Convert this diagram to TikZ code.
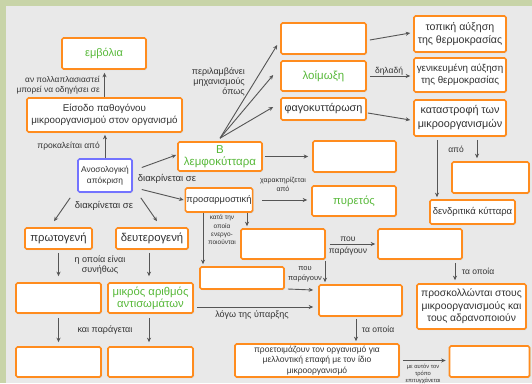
\documentclass[tikz,border=0pt]{standalone}
\usepackage{fontspec}
\setmainfont{Liberation Sans}
\usetikzlibrary{arrows.meta,shadows}
\definecolor{boxor}{RGB}{255,140,30}
\definecolor{bluec}{RGB}{115,115,255}
\definecolor{grn}{RGB}{88,185,58}
\definecolor{txt}{RGB}{50,50,50}
\definecolor{arrc}{RGB}{85,85,85}
\definecolor{bgc}{RGB}{233,233,233}
\definecolor{bandc}{RGB}{200,212,168}
\newcommand{\fs}[2]{\fontsize{#1}{#2}\selectfont}
\begin{document}
\begin{tikzpicture}[x=1pt,y=-1pt,
  box/.style={draw=boxor, line width=1.6pt, fill=white, rounded corners=1.5pt, align=center,
    inner sep=1pt, text=txt, font=\fs{9.8}{12},
    drop shadow={shadow xshift=1pt, shadow yshift=-1pt, opacity=0.2}},
  arr/.style={draw=arrc, line width=0.9pt, -{Stealth[length=4.5pt,width=4pt]}},
  lab/.style={text=txt, font=\fs{8.5}{10}, align=center, inner sep=0pt},
  small/.style={lab, font=\fs{7}{8.5}}]
\fill[bandc] (0,0) rectangle (532,383);
\fill[bgc] (6,6) rectangle (532,383);
\useasboundingbox (0,0) rectangle (532,383);

% boxes
\node[box,minimum width=84pt,minimum height=31pt,text=grn,font=\fs{11}{12}] (emv) at (104,53.5) {εμβόλια};
\node[box,minimum width=155pt,minimum height=34pt] (eis) at (104.5,115) {Είσοδο παθογόνου\\μικροοργανισμού στον οργανισμό};
\node[box,draw=bluec,minimum width=54pt,minimum height=33pt,font=\fs{8.4}{10.5}] (anos) at (105,175.5) {Ανοσολογική\\απόκριση};
\node[box,minimum width=84pt,minimum height=29pt,text=grn,font=\fs{11.5}{12.5}] (blem) at (220,156.5) {Β\\λεμφοκύτταρα};
\node[box,minimum width=85pt,minimum height=31pt] (mech) at (323.5,38.5) {};
\node[box,minimum width=85pt,minimum height=30pt,text=grn,font=\fs{11.5}{12}] (loim) at (323.5,76) {λοίμωξη};
\node[box,minimum width=85pt,minimum height=22pt,font=\fs{10.8}{12}] (fago) at (323.5,109) {φαγοκυττάρωση};
\node[box,minimum width=92pt,minimum height=36pt,font=\fs{10.6}{13.5}] (topi) at (460,34) {τοπική αύξηση\\της θερμοκρασίας};
\node[box,minimum width=92pt,minimum height=34pt,font=\fs{9.8}{12.5}] (geni) at (460,75) {γενικευμένη αύξηση\\της θερμοκρασίας};
\node[box,minimum width=92pt,minimum height=36pt,font=\fs{10.8}{14}] (kata) at (460,118) {καταστροφή των\\μικροοργανισμών};
\node[box,minimum width=83pt,minimum height=31pt] (eB) at (354.5,156.5) {};
\node[box,minimum width=84pt,minimum height=30pt,text=grn,font=\fs{11.3}{12}] (pyr) at (354,201) {πυρετός};
\node[box,minimum width=66pt,minimum height=24pt,font=\fs{9.3}{11}] (pros) at (219,200) {προσαρμοστική};
\node[box,minimum width=77pt,minimum height=31pt] (eK) at (490.5,177.5) {};
\node[box,minimum width=85pt,minimum height=24pt,font=\fs{9.5}{11}] (dend) at (472.5,212) {δενδριτικά κύτταρα};
\node[box,minimum width=84pt,minimum height=30pt] (eP) at (420,244) {};
\node[box,minimum width=84pt,minimum height=30pt] (eM) at (283,244) {};
\node[box,minimum width=67pt,minimum height=21pt,font=\fs{11.3}{12}] (prot) at (58.5,238.5) {πρωτογενή};
\node[box,minimum width=72pt,minimum height=21pt,font=\fs{11.3}{12}] (deut) at (152,238.5) {δευτερογενή};
\node[box,minimum width=85pt,minimum height=30pt] (e3) at (58.5,298) {};
\node[box,minimum width=85pt,minimum height=30pt,text=grn,font=\fs{11.3}{12}] (mik) at (150.5,298) {μικρός αριθμός\\αντισωμάτων};
\node[box,minimum width=85pt,minimum height=30pt] (e4a) at (58.5,362) {};
\node[box,minimum width=85pt,minimum height=30pt] (e4b) at (150.5,362) {};
\node[box,minimum width=84pt,minimum height=22pt] (eL) at (242,278) {};
\node[box,minimum width=83pt,minimum height=31pt] (eR) at (360.5,300.5) {};
\node[box,minimum width=109pt,minimum height=45pt,font=\fs{10.3}{12.5}] (prosk) at (471.5,306.5) {προσκολλώνται στους\\μικροοργανισμούς και\\τους αδρανοποιούν};
\node[box,minimum width=164pt,minimum height=33pt,font=\fs{8.5}{10.5}] (prep) at (317,360.5) {προετοιμάζουν τον οργανισμό για\\μελλοντική επαφή με τον ίδιο\\μικροοργανισμό};
\node[box,minimum width=80pt,minimum height=31pt] (eBR) at (489.5,361.5) {};

% connectors
\draw[arr,shorten >=3pt] (eis.north) -- (eis.north |- emv.south);
\draw[arr,shorten >=2pt] (anos.north) -- (anos.north |- eis.south);
\draw[arr] ([shift={(9,-8)}]anos.east) -- ([shift={(-1,-1.5)}]blem.west);
\draw[arr] ([shift={(9,14)}]anos.east) -- ([shift={(-1,0)}]pros.west);
\draw[arr] ([shift={(-7,5)}]anos.south west) -- ([shift={(-4.5,-6)}]prot.north);
\draw[arr] ([shift={(8,5)}]anos.south east) -- ([shift={(5,-6)}]deut.north);
\draw[arr] ([shift={(0,-3)}]blem.north) -- ([shift={(-3,6.5)}]mech.west);
\draw[arr] ([shift={(0,-3)}]blem.north) -- ([shift={(-7,-1)}]loim.west);
\draw[arr] ([shift={(0,-3)}]blem.north) -- ([shift={(-7,-2)}]fago.west);
\draw[arr] ([shift={(3,1.5)}]mech.east) -- ([shift={(-3,-1)}]topi.west);
\draw[arr,shorten <=3pt,shorten >=3pt] (loim.east) -- (loim.east -| geni.west);
\draw[arr] ([shift={(1,4)}]fago.east) -- ([shift={(-3,2)}]kata.west);
\draw[arr,shorten <=2pt,shorten >=4pt] (blem.east) -- (blem.east -| eB.west);
\draw[arr,shorten <=9pt,shorten >=4pt] (pros.east) -- (pros.east -| pyr.west);
\draw[arr] ([shift={(-23,3)}]kata.south) -- ([shift={(-35.5,-2)}]dend.north);
\draw[arr] ([shift={(17,3)}]kata.south) -- ([shift={(-13.5,-3)}]eK.north);
\draw[arr,shorten >=2pt] ([xshift=28pt]pros.south) -- ([xshift=28pt]pros.south |- eM.north);
\draw[arr,shorten >=2pt] ([xshift=-16pt]pros.south) -- ([xshift=-16pt]pros.south |- eL.north);
\draw[arr,shorten <=4pt,shorten >=2pt] (eM.east) -- (eM.east -| eP.west);
\draw[arr,shorten <=1pt,shorten >=2pt] ([xshift=42pt]eM.south) -- ([xshift=42pt]eM.south |- eR.north);
\draw[arr] ([shift={(3,11)}]eL.east) -- ([shift={(-5,-10.5)}]eR.west);
\draw[arr] ([shift={(3,9)}]mik.east) -- ([shift={(-5,6.5)}]eR.west);
\draw[arr,shorten <=2pt,shorten >=2pt] ([xshift=-4.5pt]eR.south) -- ([xshift=-4.5pt]eR.south |- prep.north);
\draw[arr,shorten <=3pt,shorten >=3pt] ([xshift=35pt]eP.south) -- ([xshift=35pt]eP.south |- prosk.north);
\draw[arr,shorten <=3pt,shorten >=3pt] (prep.east) -- (prep.east -| eBR.west);
\draw[arr,shorten <=3pt,shorten >=6pt] (prot.south) -- (prot.south |- e3.north);
\draw[arr,shorten <=3pt,shorten >=6pt] ([xshift=-3pt]deut.south) -- ([xshift=-3pt]deut.south |- mik.north);
\draw[arr,shorten <=4pt,shorten >=4pt] (e3.south) -- (e3.south |- e4a.north);
\draw[arr,shorten <=4pt,shorten >=4pt] ([xshift=-1.5pt]mik.south) -- ([xshift=-1.5pt]mik.south |- e4b.north);

% labels
\node[lab,anchor=east,align=right,font=\fs{8.3}{10}] (l1) at (100,85) {αν πολλαπλασιαστεί\\μπορεί να οδηγήσει σε};
\node[lab,anchor=east] (l2) at (100,146) {προκαλείται από};
\node[lab,font=\fs{9.5}{10}] (l3) at (167,179) {διακρίνεται σε};
\node[lab,font=\fs{9.5}{10}] (l4) at (104,206) {διακρίνεται σε};
\node[lab,anchor=east,align=right,font=\fs{9}{10}] (l5) at (245,82) {περιλαμβάνει\\μηχανισμούς\\όπως};
\node[lab] (l6) at (389,71) {δηλαδή};
\node[small] (l7) at (283,184.5) {χαρακτηρίζεται\\από};
\node[lab] (l8) at (456,149) {από};
\node[small,font=\fs{6.5}{8.3}] (l9) at (222,230) {κατά την\\οποία\\ενεργο-\\ποιούνται};
\node[lab] (l10) at (348,239.5) {που};
\node[lab] (l11) at (348,251.5) {παράγουν};
\node[lab,font=\fs{7.5}{10}] (l12) at (305,274) {που\\παράγουν};
\node[lab,font=\fs{9}{10}] (l13) at (252,315) {λόγω της ύπαρξης};
\node[lab] (l14) at (378,329) {τα οποία};
\node[lab] (l15) at (478,271) {τα οποία};
\node[lab,anchor=north,font=\fs{5.8}{7}] (l16) at (423,364) {με αυτόν τον\\τρόπο\\επιτυγχάνεται};
\node[lab,font=\fs{9}{10}] (l17) at (100,265) {η οποία είναι\\συνήθως};
\node[lab,font=\fs{9}{10}] (l18) at (105,330) {και παράγεται};
\end{tikzpicture}
\end{document}
